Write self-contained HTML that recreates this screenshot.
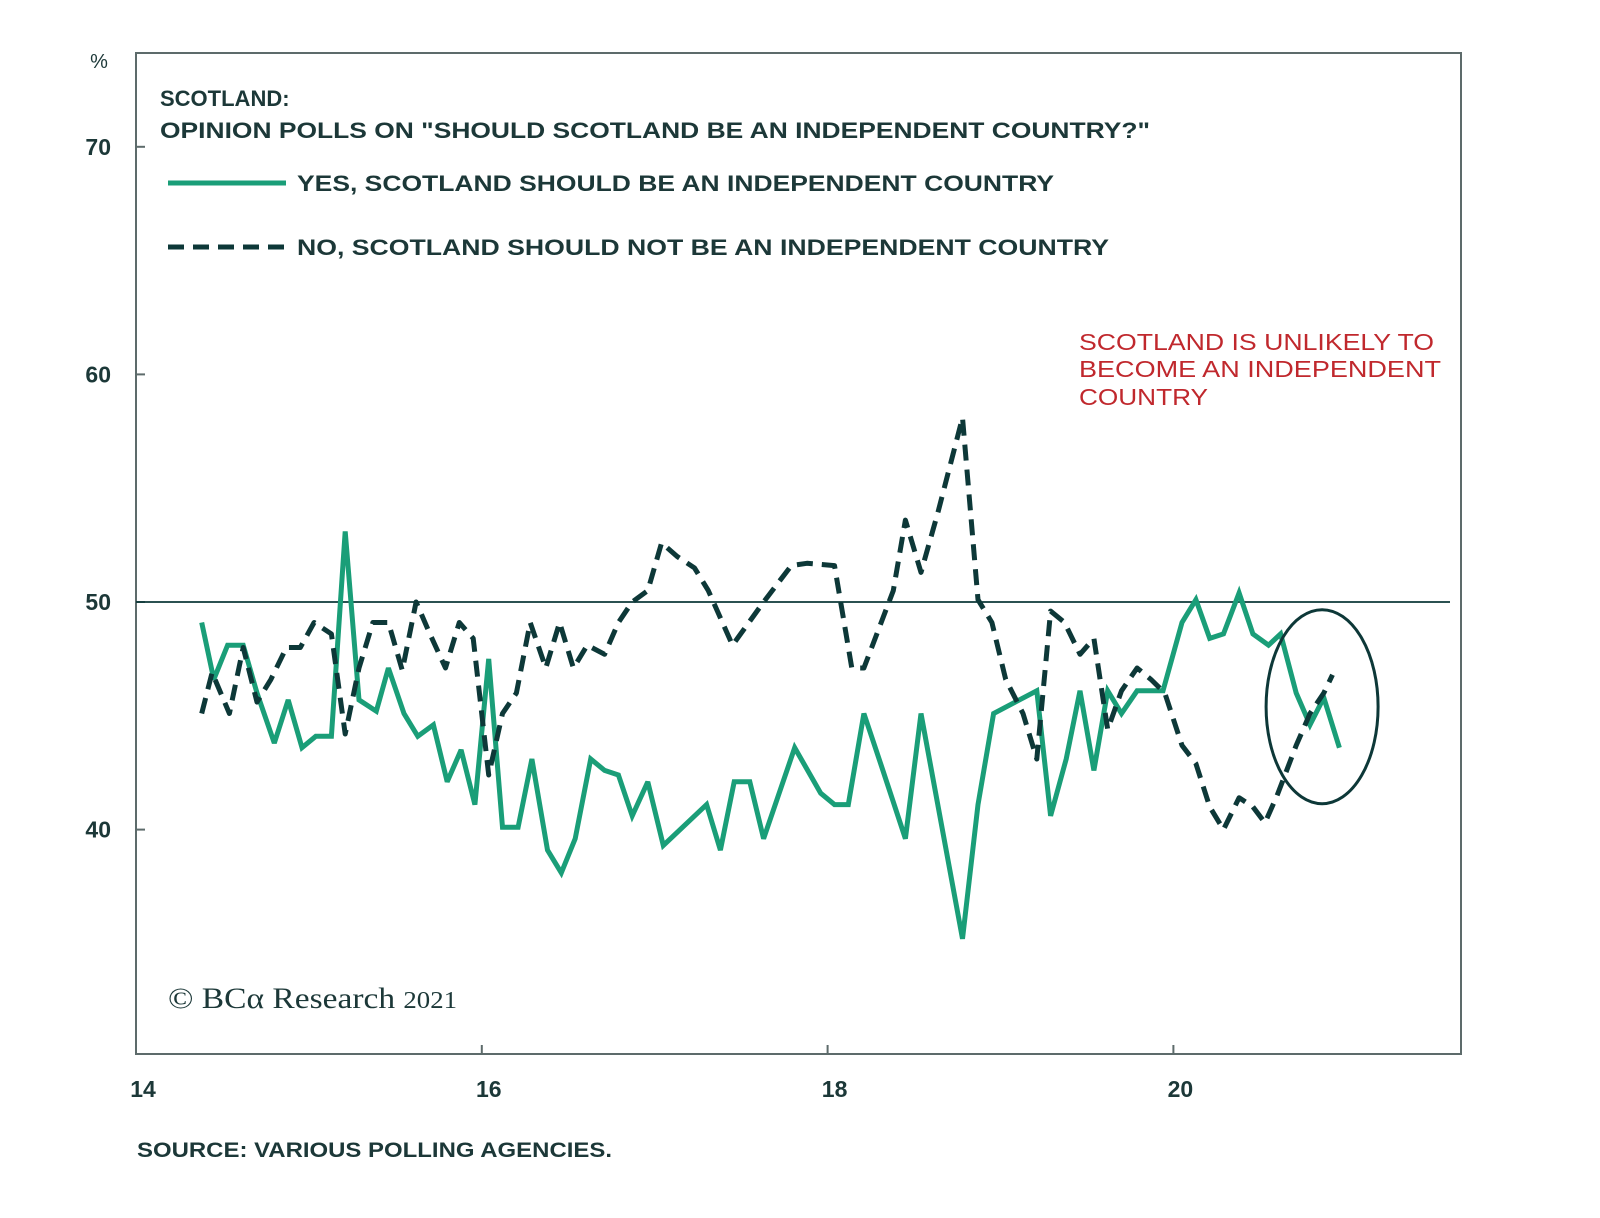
<!DOCTYPE html>
<html><head><meta charset="utf-8">
<style>
html,body{margin:0;padding:0;background:#fff;}
svg{display:block;font-family:"Liberation Sans",sans-serif;}
</style></head>
<body>
<svg id="chart" width="1600" height="1218" viewBox="0 0 1600 1218">
<rect x="136" y="53" width="1325" height="1001" fill="none" stroke="#5d6b6b" stroke-width="2"/>
<g id="axes"></g>
<g id="series"></g>
<text x="99" y="68" font-size="20" fill="#1c3838" text-anchor="middle">%</text>
<text x="160" y="106" font-size="22" font-weight="bold" fill="#1c3838">SCOTLAND:</text>
<text x="160" y="138" font-size="22" font-weight="bold" fill="#1c3838" textLength="990" lengthAdjust="spacingAndGlyphs">OPINION POLLS ON "SHOULD SCOTLAND BE AN INDEPENDENT COUNTRY?"</text>
<line x1="168" y1="183" x2="286" y2="183" stroke="#1a9e78" stroke-width="5"/>
<text x="297" y="191" font-size="22" font-weight="bold" fill="#1c3838" textLength="757" lengthAdjust="spacingAndGlyphs">YES, SCOTLAND SHOULD BE AN INDEPENDENT COUNTRY</text>
<line x1="168" y1="247" x2="286" y2="247" stroke="#0d3838" stroke-width="5" stroke-dasharray="16,9"/>
<text x="297" y="255" font-size="22" font-weight="bold" fill="#1c3838" textLength="812" lengthAdjust="spacingAndGlyphs">NO, SCOTLAND SHOULD NOT BE AN INDEPENDENT COUNTRY</text>
<g fill="#c0282d" font-size="23">
<text x="1079" y="350" textLength="355" lengthAdjust="spacingAndGlyphs">SCOTLAND IS UNLIKELY TO</text>
<text x="1079" y="377" textLength="362" lengthAdjust="spacingAndGlyphs">BECOME AN INDEPENDENT</text>
<text x="1079" y="405" textLength="129" lengthAdjust="spacingAndGlyphs">COUNTRY</text>
</g>
<text x="168" y="1008" font-size="30" fill="#1c3838" font-family="Liberation Serif,serif" textLength="289" lengthAdjust="spacingAndGlyphs">© BCα Research <tspan font-size="24">2021</tspan></text>
<text x="137" y="1157" font-size="21" font-weight="bold" fill="#1c3838" textLength="475" lengthAdjust="spacingAndGlyphs">SOURCE: VARIOUS POLLING AGENCIES.</text>
</svg>
<script>
const yTicks=[40,50,60,70];
const xTicks=[14,16,18,20];
const xTickLabels=["14","16","18","20"];
const yesDates=[14.38,14.45,14.53,14.62,14.70,14.80,14.88,14.96,15.04,15.13,15.21,15.29,15.39,15.46,15.55,15.63,15.72,15.80,15.88,15.96,16.04,16.12,16.21,16.29,16.38,16.46,16.54,16.63,16.71,16.79,16.87,16.96,17.05,17.30,17.38,17.46,17.55,17.63,17.81,17.96,18.04,18.12,18.21,18.32,18.45,18.54,18.78,18.87,18.96,19.21,19.29,19.38,19.46,19.54,19.62,19.70,19.79,19.94,20.05,20.13,20.21,20.29,20.38,20.46,20.55,20.62,20.71,20.79,20.87,20.96];
const yesValues=[49.1,46.6,48.1,48.1,46.0,43.8,45.7,43.6,44.1,44.1,53.1,45.7,45.2,47.1,45.1,44.1,44.6,42.1,43.5,41.1,47.5,40.1,40.1,43.1,39.1,38.1,39.6,43.1,42.6,42.4,40.6,42.1,39.3,41.1,39.1,42.1,42.1,39.6,43.6,41.6,41.1,41.1,45.1,42.6,39.6,45.1,35.2,41.1,45.1,46.1,40.6,43.1,46.1,42.6,46.1,45.1,46.1,46.1,49.1,50.1,48.4,48.6,50.4,48.6,48.1,48.6,46.0,44.6,45.8,43.6];
const noDates=[14.38,14.44,14.54,14.62,14.70,14.78,14.87,14.95,15.03,15.13,15.21,15.29,15.37,15.46,15.54,15.62,15.70,15.79,15.87,15.95,16.04,16.12,16.20,16.28,16.37,16.45,16.53,16.61,16.71,16.79,16.87,16.96,17.04,17.13,17.23,17.31,17.45,17.63,17.79,17.88,18.04,18.14,18.21,18.31,18.38,18.45,18.54,18.64,18.78,18.87,18.95,19.03,19.13,19.21,19.29,19.37,19.46,19.54,19.62,19.70,19.79,19.87,19.95,20.05,20.13,20.21,20.29,20.38,20.46,20.53,20.60,20.71,20.79,20.87,20.92];
const noValues=[45.1,46.9,45.1,48.0,45.6,46.6,48.0,48.0,49.1,48.6,44.2,47.1,49.1,49.1,47.0,50.0,48.6,47.1,49.1,48.4,42.4,45.1,46.0,49.1,47.1,49.1,47.1,48.1,47.7,49.1,50.0,50.5,52.6,52.0,51.5,50.5,48.1,50.0,51.6,51.7,51.6,47.1,47.1,49.1,50.5,53.6,51.3,54.0,58.1,50.1,49.1,46.6,45.1,43.1,49.6,49.1,47.7,48.4,44.4,46.1,47.1,46.6,46.0,43.7,42.9,41.0,40.0,41.4,41.0,40.3,41.5,43.7,45.1,46.0,46.8];
const circleCenter=[20.86,45.4];

const NS='http://www.w3.org/2000/svg';
function xs(v){return 136+(v-14)*172.9;}
function ys(v){return 602-(v-50)*22.76;}
function mk(tag,attrs,parent){const e=document.createElementNS(NS,tag);for(const k in attrs)e.setAttribute(k,attrs[k]);parent.appendChild(e);return e;}
const axes=document.getElementById('axes');
const series=document.getElementById('series');
yTicks.forEach(t=>{
  const tk=mk('line',{x1:136,x2:145,y1:ys(t),y2:ys(t),stroke:'#5d6b6b','stroke-width':2},axes);
  
  
  const lb=mk('text',{x:111,y:ys(t)+8,'font-size':23,'font-weight':'bold',fill:'#1c3838','text-anchor':'end'},axes);
  lb.textContent=t;
  
  
});
xTicks.forEach((t,i)=>{
  const tk=mk('line',{x1:xs(t),x2:xs(t),y1:1045,y2:1054,stroke:'#5d6b6b','stroke-width':2},axes);
  
  
  const lb=mk('text',{x:xs(t)+7,y:1097,'font-size':23,'font-weight':'bold',fill:'#1c3838','text-anchor':'middle'},axes);
  lb.textContent=xTickLabels[i];
  
  
});
const ref=mk('line',{x1:136,x2:1450,y1:ys(50),y2:ys(50),stroke:'#0d3838','stroke-width':1.8},axes);


function pts(d,v){return d.map((x,i)=>xs(x).toFixed(1)+','+ys(v[i]).toFixed(1)).join(' ');}
const yes=mk('polyline',{points:pts(yesDates,yesValues),fill:'none',stroke:'#1a9e78','stroke-width':5,'stroke-linejoin':'miter','stroke-miterlimit':3},series);


const no=mk('polyline',{points:pts(noDates,noValues),fill:'none',stroke:'#0d3838','stroke-width':5,'stroke-dasharray':'16,9','stroke-linejoin':'round'},series);


const el=mk('ellipse',{cx:xs(circleCenter[0]),cy:ys(circleCenter[1]),rx:56,ry:97,fill:'none',stroke:'#0d3838','stroke-width':3},series);


</script>
</body></html>
